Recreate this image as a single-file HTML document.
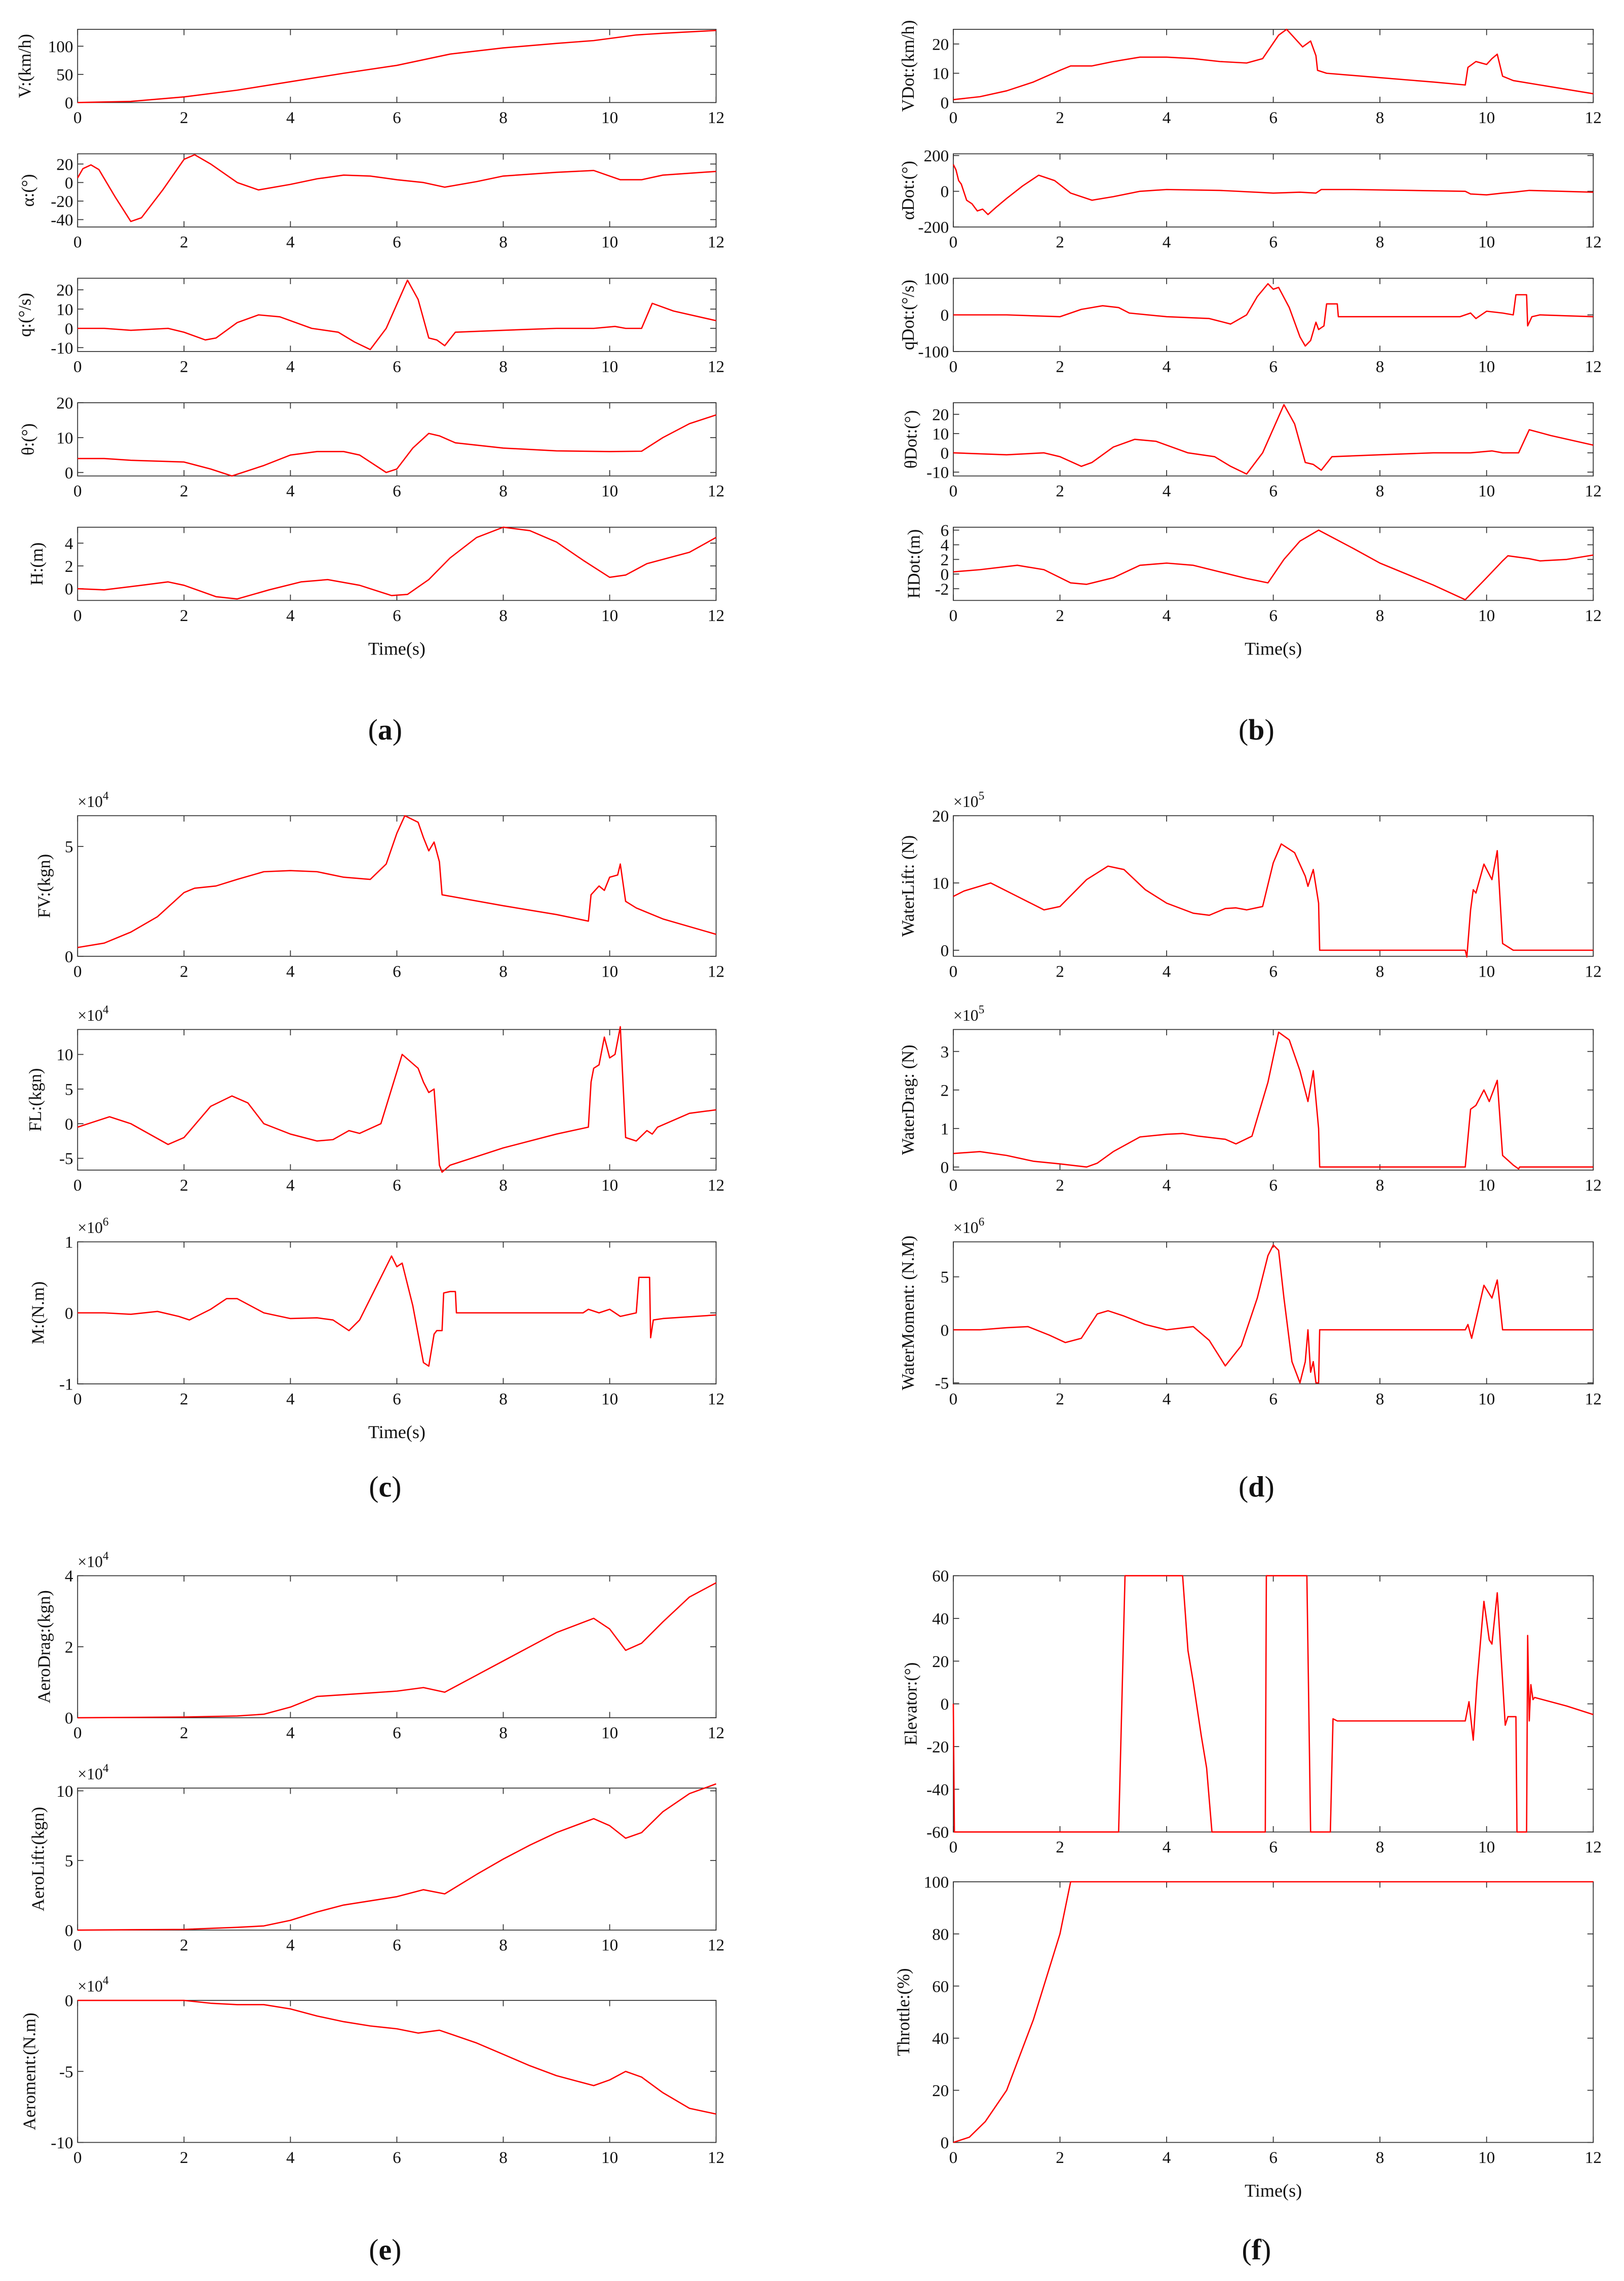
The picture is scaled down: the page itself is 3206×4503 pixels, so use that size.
<!DOCTYPE html>
<html><head><meta charset="utf-8">
<style>
html,body{margin:0;padding:0;background:#fff;}
svg{display:block;}
text{font-family:"Liberation Serif",serif;fill:#111;}
</style></head>
<body>
<svg id="fig" width="3206" height="4503" viewBox="0 0 1109 1557.6" xmlns="http://www.w3.org/2000/svg"></svg>
<script>
// ---- data arrays (time knots and values) ----
const xTicks = [0,2,4,6,8,10,12];
const V_t = [0,1,2,3,4,5,6,7,8,9,9.7,10.5,11,12];
const V_v = [0,2,10,22,37,52,66,86,97,105,110,120,123,128];
const A_t = [0,0.1,0.25,0.4,0.7,1.0,1.2,1.6,2.0,2.2,2.5,3.0,3.4,4,4.5,5,5.5,6,6.5,6.9,7.5,8,9,9.7,10.2,10.6,11,12];
const A_v = [5,15,19,14,-15,-42,-38,-8,25,30,20,0,-8,-2,4,8,7,3,0,-5,1,7,11,13,3,3,8,12];
const Q_t = [0,0.5,1,1.7,2,2.4,2.6,3.0,3.4,3.8,4.4,4.9,5.2,5.5,5.8,6.2,6.4,6.6,6.75,6.9,7.1,8,9,9.7,10.1,10.3,10.6,10.8,11.2,12];
const Q_v = [0,0,-1,0,-2,-6,-5,3,7,6,0,-2,-7,-11,0,25,15,-5,-6,-9,-2,-1,0,0,1,0,0,13,9,4];
const TH_t = [0,0.5,1,2,2.5,2.9,3.5,4,4.5,5,5.3,5.8,6,6.3,6.6,6.8,7.1,8,9,10,10.6,11,11.5,12];
const TH_v = [4,4,3.5,3,1,-1,2,5,6,6,5,0,1,7,11.2,10.5,8.5,7,6.2,6,6.1,10,14,16.5];
const H_t = [0,0.5,1.2,1.7,2,2.6,3,3.6,4.2,4.7,5.3,5.9,6.2,6.6,7,7.5,8,8.5,9,9.5,10,10.3,10.7,11.5,12];
const H_v = [0,-0.1,0.3,0.6,0.3,-0.7,-0.9,-0.1,0.6,0.8,0.3,-0.6,-0.5,0.8,2.7,4.5,5.4,5.1,4.1,2.5,1,1.2,2.2,3.2,4.5];
const VD_t = [0,0.5,1,1.5,2,2.2,2.6,3,3.5,4,4.5,5,5.5,5.8,6.1,6.25,6.5,6.55,6.7,6.8,6.83,7,8,9,9.6,9.65,9.8,10,10.1,10.2,10.3,10.5,11,12];
const VD_v = [1,2,4,7,11,12.5,12.5,14,15.5,15.5,15,14,13.5,15,23,25,20,19,21,16,11,10,8.5,7,6,12,14,13,15,16.5,9,7.5,6,3];
const AD_t = [0,0.05,0.1,0.15,0.25,0.35,0.45,0.55,0.65,0.8,1.0,1.3,1.6,1.9,2.2,2.6,3.0,3.5,4,5,6,6.5,6.8,6.9,7.5,9.6,9.7,10,10.3,10.5,10.8,12];
const AD_v = [150,120,60,40,-50,-70,-110,-100,-130,-90,-40,30,90,60,-10,-50,-30,0,10,5,-10,-5,-10,10,10,0,-15,-20,-10,-5,5,-5];
const QD_t = [0,1,2,2.4,2.8,3.1,3.3,4,4.8,5.2,5.5,5.7,5.9,6.0,6.1,6.3,6.5,6.6,6.7,6.8,6.85,6.95,7.0,7.2,7.22,9.5,9.7,9.8,10.0,10.3,10.5,10.55,10.75,10.77,10.85,11,12];
const QD_v = [0,0,-5,15,25,20,5,-5,-10,-25,0,50,85,70,75,20,-60,-85,-70,-20,-40,-30,30,30,-5,-5,5,-10,10,5,0,55,55,-30,-5,0,-5];
const TD_t = [0,1,1.7,2,2.4,2.6,3,3.4,3.8,4.4,4.9,5.2,5.5,5.8,6.2,6.4,6.6,6.75,6.9,7.1,8,9,9.7,10.1,10.3,10.6,10.8,11.2,12];
const TD_v = [0,-1,0,-2,-7,-5,3,7,6,0,-2,-7,-11,0,25,15,-5,-6,-9,-2,-1,0,0,1,0,0,12,9,4];
const HD_t = [0,0.5,1.2,1.7,2.2,2.5,3,3.5,4,4.5,5,5.5,5.9,6.2,6.5,6.85,7.5,8,9,9.6,10,10.3,10.4,10.8,11,11.5,12];
const HD_v = [0.3,0.6,1.2,0.6,-1.2,-1.4,-0.5,1.2,1.5,1.2,0.3,-0.6,-1.2,2,4.5,6,3.5,1.5,-1.5,-3.5,-0.5,1.8,2.5,2.1,1.8,2,2.6];
const FV_t = [0,0.5,1,1.5,2,2.2,2.6,3,3.5,4,4.5,5,5.5,5.8,6.0,6.15,6.4,6.5,6.6,6.7,6.8,6.85,8,9,9.6,9.65,9.8,9.9,10,10.15,10.2,10.3,10.5,11,12];
const FV_v = [0.4,0.6,1.1,1.8,2.9,3.1,3.2,3.5,3.85,3.9,3.85,3.6,3.5,4.2,5.6,6.4,6.1,5.4,4.8,5.2,4.3,2.8,2.3,1.9,1.6,2.8,3.2,3.0,3.6,3.7,4.2,2.5,2.2,1.7,1.0];
const FL_t = [0,0.2,0.6,1.0,1.7,2.0,2.5,2.9,3.2,3.5,4,4.5,4.8,5.1,5.3,5.7,5.9,6.1,6.4,6.5,6.6,6.7,6.8,6.85,7,8,9,9.6,9.65,9.7,9.8,9.9,10.0,10.1,10.2,10.3,10.5,10.7,10.8,10.9,11.5,12];
const FL_v = [-0.5,0,1.0,0,-3.0,-2,2.5,4,3,0,-1.5,-2.5,-2.3,-1,-1.4,0,5,10,8,6,4.5,5,-6,-7,-6,-3.5,-1.5,-0.5,6,8,8.5,12.5,9.5,10,14,-2,-2.5,-1,-1.5,-0.5,1.5,2];
const M_t = [0,0.5,1,1.5,1.9,2.1,2.5,2.8,3,3.5,4,4.5,4.8,5.1,5.3,5.7,5.9,6.0,6.1,6.3,6.5,6.6,6.7,6.75,6.85,6.88,7.0,7.1,7.12,9.5,9.6,9.8,10.0,10.2,10.5,10.55,10.75,10.77,10.82,11,12];
const M_v = [0,0,-0.02,0.02,-0.05,-0.1,0.05,0.2,0.2,0,-0.08,-0.07,-0.1,-0.25,-0.1,0.5,0.8,0.65,0.7,0.1,-0.7,-0.75,-0.3,-0.25,-0.25,0.28,0.3,0.3,0,0,0.05,0,0.05,-0.05,0,0.5,0.5,-0.35,-0.1,-0.08,-0.03];
const WL_t = [0,0.2,0.7,1.2,1.7,2.0,2.5,2.9,3.2,3.6,4,4.5,4.8,5.1,5.3,5.5,5.8,6.0,6.15,6.4,6.6,6.65,6.75,6.85,6.87,9.6,9.63,9.7,9.75,9.8,9.95,10.1,10.2,10.3,10.5,12];
const WL_v = [8,8.8,10,8,6,6.5,10.5,12.5,12,9,7,5.5,5.2,6.2,6.3,6,6.5,13,15.8,14.5,11,9.5,12,7,0,0,-1,6,9,8.5,12.8,10.5,14.8,1,0,0];
const WD_t = [0,0.5,1,1.5,2,2.5,2.7,3.0,3.5,4,4.3,4.6,5.1,5.3,5.6,5.9,6.1,6.3,6.5,6.65,6.75,6.85,6.87,9.6,9.7,9.8,9.95,10.05,10.2,10.3,10.5,10.6,10.62,12];
const WD_v = [0.35,0.4,0.3,0.15,0.08,0,0.1,0.4,0.78,0.85,0.87,0.8,0.72,0.6,0.8,2.2,3.5,3.3,2.5,1.7,2.5,1.0,0,0,1.5,1.6,2.0,1.7,2.25,0.3,0.05,-0.05,0,0];
const WM_t = [0,0.5,1,1.4,1.8,2.1,2.4,2.7,2.9,3.2,3.6,4,4.5,4.8,5.1,5.4,5.7,5.9,6.0,6.1,6.2,6.35,6.5,6.6,6.65,6.7,6.75,6.8,6.85,6.87,9.6,9.65,9.72,9.95,10.1,10.2,10.3,12];
const WM_v = [0,0,0.2,0.3,-0.5,-1.2,-0.8,1.5,1.8,1.3,0.5,0,0.3,-1,-3.4,-1.5,3,7,8,7.5,3,-3,-5,-3,0,-4,-3,-5,-5,0,0,0.5,-0.8,4.2,3,4.7,0,0];
const ADR_t = [0,2,3,3.5,4,4.5,5,5.5,6,6.5,6.9,7.5,8,8.5,9,9.7,10,10.3,10.6,11,11.5,12];
const ADR_v = [0,0.02,0.05,0.1,0.3,0.6,0.65,0.7,0.75,0.85,0.72,1.2,1.6,2.0,2.4,2.8,2.5,1.9,2.1,2.7,3.4,3.8];
const AL_t = [0,2,3,3.5,4,4.5,5,5.5,6,6.5,6.9,7.5,8,8.5,9,9.7,10,10.3,10.6,11,11.5,12];
const AL_v = [0,0.05,0.2,0.3,0.7,1.3,1.8,2.1,2.4,2.9,2.6,4,5.1,6.1,7,8,7.5,6.6,7,8.5,9.8,10.5];
const AM_t = [0,2,2.5,3,3.5,4,4.5,5,5.5,6,6.4,6.8,7.5,8,8.5,9,9.7,10,10.3,10.6,11,11.5,12];
const AM_v = [0,0,-0.2,-0.3,-0.3,-0.6,-1.1,-1.5,-1.8,-2,-2.3,-2.1,-3,-3.8,-4.6,-5.3,-6,-5.6,-5,-5.4,-6.5,-7.6,-8];
const EL_t = [0,0.02,3.1,3.22,4.3,4.4,4.5,4.65,4.75,4.85,5.85,5.87,6.63,6.7,7.07,7.12,7.2,9.6,9.67,9.75,9.82,9.95,10.05,10.1,10.2,10.35,10.4,10.55,10.57,10.75,10.77,10.8,10.83,10.87,10.9,11.5,12];
const EL_v = [0,-60,-60,60,60,25,10,-15,-30,-60,-60,60,60,-60,-60,-7,-8,-8,1,-17,10,48,30,28,52,-10,-6,-6,-60,-60,32,-8,9,2,3,-1,-5];
const TR_t = [0,0.3,0.6,1,1.5,2,2.2,12];
const TR_v = [0,2,8,20,47,80,100,100];

// ---- layout ----
const NS = "http://www.w3.org/2000/svg";
const svg = document.getElementById('fig');
function mk(tag, attrs, parent){ const e=document.createElementNS(NS,tag); for(const k in attrs) e.setAttribute(k,attrs[k]); (parent||svg).appendChild(e); return e; }

const L = [53,489], R = [651,1088];
const panels = [
 {name:'v-speed', x:L, y:[20,70], yl:[0,130], yt:[0,50,100], lab:'V:(km/h)', lx:17, t:V_t, v:V_v},
 {name:'alpha', x:L, y:[105,155], yl:[-48,31], yt:[-40,-20,0,20], lab:'α:(°)', lx:19, t:A_t, v:A_v},
 {name:'q-rate', x:L, y:[190,240], yl:[-12,26], yt:[-10,0,10,20], lab:'q:(°/s)', lx:17, t:Q_t, v:Q_v},
 {name:'theta', x:L, y:[275,325], yl:[-1,20], yt:[0,10,20], lab:'θ:(°)', lx:19, t:TH_t, v:TH_v},
 {name:'height', x:L, y:[360,410], yl:[-1.03,5.4], yt:[0,2,4], lab:'H:(m)', lx:25, t:H_t, v:H_v, time:true},
 {name:'v-dot', x:R, y:[20,70], yl:[0,25], yt:[0,10,20], lab:'VDot:(km/h)', lx:620, t:VD_t, v:VD_v},
 {name:'alpha-dot', x:R, y:[105,155], yl:[-200,210], yt:[-200,0,200], lab:'αDot:(°)', lx:620, t:AD_t, v:AD_v},
 {name:'q-dot', x:R, y:[190,240], yl:[-100,100], yt:[-100,0,100], lab:'qDot:(°/s)', lx:620, t:QD_t, v:QD_v},
 {name:'theta-dot', x:R, y:[275,325], yl:[-12,26], yt:[-10,0,10,20], lab:'θDot:(°)', lx:622, t:TD_t, v:TD_v},
 {name:'h-dot', x:R, y:[360,410], yl:[-3.6,6.4], yt:[-2,0,2,4,6], lab:'HDot:(m)', lx:624, t:HD_t, v:HD_v, time:true},
 {name:'fv', x:L, y:[557,653], yl:[0,6.4], yt:[0,5], lab:'FV:(kgn)', lx:30, exp:'4', t:FV_t, v:FV_v},
 {name:'fl', x:L, y:[703,799], yl:[-6.7,13.6], yt:[-5,0,5,10], lab:'FL:(kgn)', lx:24, exp:'4', t:FL_t, v:FL_v},
 {name:'moment', x:L, y:[848,945], yl:[-1,1], yt:[-1,0,1], lab:'M:(N.m)', lx:26, exp:'6', t:M_t, v:M_v, time:true},
 {name:'water-lift', x:R, y:[557,653], yl:[-0.9,20], yt:[0,10,20], lab:'WaterLift: (N)', lx:620, exp:'5', t:WL_t, v:WL_v},
 {name:'water-drag', x:R, y:[703,799], yl:[-0.08,3.57], yt:[0,1,2,3], lab:'WaterDrag: (N)', lx:620, exp:'5', t:WD_t, v:WD_v},
 {name:'water-moment', x:R, y:[848,945], yl:[-5.1,8.3], yt:[-5,0,5], lab:'WaterMoment: (N.M)', lx:620, exp:'6', t:WM_t, v:WM_v},
 {name:'aero-drag', x:L, y:[1076,1173], yl:[0,4], yt:[0,2,4], lab:'AeroDrag:(kgn)', lx:30, exp:'4', t:ADR_t, v:ADR_v},
 {name:'aero-lift', x:L, y:[1221,1318], yl:[0,10.2], yt:[0,5,10], lab:'AeroLift:(kgn)', lx:26, exp:'4', t:AL_t, v:AL_v},
 {name:'aero-moment', x:L, y:[1366,1463], yl:[-10,0], yt:[-10,-5,0], lab:'Aeroment:(N.m)', lx:20, exp:'4', t:AM_t, v:AM_v},
 {name:'elevator', x:R, y:[1076,1251], yl:[-60,60], yt:[-60,-40,-20,0,20,40,60], lab:'Elevator:(°)', lx:622, t:EL_t, v:EL_v},
 {name:'throttle', x:R, y:[1285,1463], yl:[0,100], yt:[0,20,40,60,80,100], lab:'Throttle:(%)', lx:617, t:TR_t, v:TR_v, time:true}
];
const subLabels = [['a',263,505],['b',858,505],['c',263,1022],['d',858,1022],['e',263,1543],['f',858,1543]];

panels.forEach(p=>{
  const g = mk('g',{});
  
  
  const [x0,x1]=p.x, [yTop,yBot]=p.y;
  const sx = t => x0 + (t/12)*(x1-x0);
  const sy = v => yBot - (v-p.yl[0])/(p.yl[1]-p.yl[0])*(yBot-yTop);
  const box = mk('rect',{x:x0,y:yTop,width:x1-x0,height:yBot-yTop,fill:'none',stroke:'#333','stroke-width':0.6},g);
  
  
  xTicks.forEach(t=>{
    const X=sx(t);
    mk('line',{x1:X,x2:X,y1:yBot,y2:yBot-4,stroke:'#333','stroke-width':0.6},g);
    mk('line',{x1:X,x2:X,y1:yTop,y2:yTop+4,stroke:'#333','stroke-width':0.6},g);
    const tx = mk('text',{x:X,y:yBot+14,'font-size':11.5,'text-anchor':'middle'},g);
    tx.textContent = t;
    
    
  });
  p.yt.forEach(v=>{
    const Y=sy(v);
    mk('line',{x1:x0,x2:x0+4,y1:Y,y2:Y,stroke:'#333','stroke-width':0.6},g);
    mk('line',{x1:x1,x2:x1-4,y1:Y,y2:Y,stroke:'#333','stroke-width':0.6},g);
    const tx = mk('text',{x:x0-3,y:Y+4,'font-size':11.5,'text-anchor':'end'},g);
    tx.textContent = v;
    
    
  });
  const cy=(yTop+yBot)/2;
  const yl = mk('text',{x:p.lx,y:cy,'font-size':12,'text-anchor':'middle',transform:`rotate(-90 ${p.lx} ${cy})`,dy:4},g);
  yl.textContent = p.lab;
  
  
  if(p.exp){
    const ex = mk('text',{x:x0,y:yTop-6,'font-size':11},g);
    ex.textContent = '×10';
    const sup = mk('tspan',{dy:-5,'font-size':8},ex);
    sup.textContent = p.exp;
    
    
  }
  const pts = p.t.map((t,i)=>sx(t).toFixed(2)+','+sy(p.v[i]).toFixed(2)).join(' ');
  const line = mk('polyline',{points:pts,fill:'none',stroke:'#ff0000','stroke-width':0.9,'stroke-linejoin':'round'},g);
  
  
  if(p.time){
    const tl = mk('text',{x:(x0+x1)/2,y:yBot+37,'font-size':12.5,'text-anchor':'middle'},g);
    tl.textContent = 'Time(s)';
    
    
  }
});
subLabels.forEach(s=>{
  const t = mk('text',{x:s[1],y:s[2],'font-size':20,'text-anchor':'middle'});
  t.textContent='(';
  const b = mk('tspan',{'font-weight':'bold'},t); b.textContent=s[0];
  const c = mk('tspan',{},t); c.textContent=')';
  
  
});
</script>
</body></html>
